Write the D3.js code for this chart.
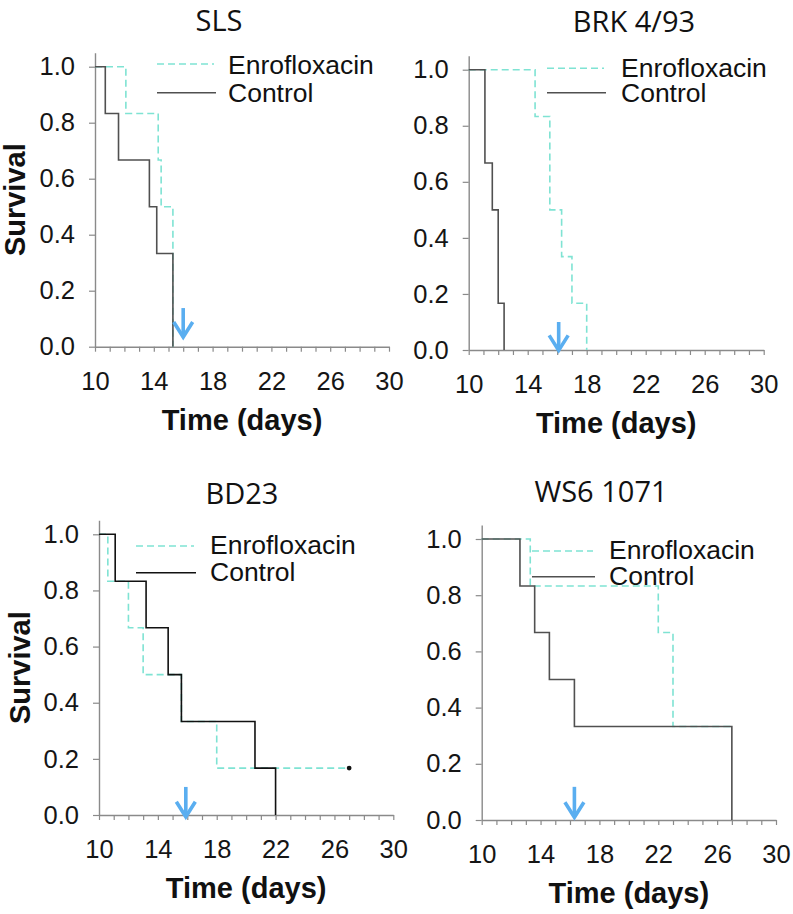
<!DOCTYPE html>
<html>
<head>
<meta charset="utf-8">
<script src="https://cdn.jsdelivr.net/npm/d3@7"></script>
<style>
  html, body { margin: 0; padding: 0; background: #fff; }
  svg { display: block; }
</style>
</head>
<body>
<svg id="chart" width="793" height="914"></svg>
<script>
// ---------------- DATA ----------------
const panelTitles = ["SLS", "BRK 4/93", "BD23", "WS6 1071"];
const seriesNames = ["Enrofloxacin", "Control"];

// Kaplan-Meier step points (time in days, survival fraction)
const controlTimes = [
  [10, 10.7, 11.6, 13.7, 14.2, 15.3],
  [10, 11.1, 11.6, 12.0, 12.4],
  [10, 11.1, 13.2, 14.7, 15.6, 20.6, 22.0],
  [10, 12.6, 13.6, 14.6, 16.3, 27.0]
];
const controlSurvival = [
  [1, 0.833, 0.667, 0.5, 0.333, 0],
  [1, 0.667, 0.5, 0.167, 0],
  [1, 0.833, 0.667, 0.5, 0.333, 0.167, 0],
  [1, 0.833, 0.667, 0.5, 0.333, 0]
];
const enroTimes = [
  [10, 12.1, 14.3, 14.5, 15.3],
  [10, 14.5, 15.5, 16.3, 17.0, 18.0],
  [10, 10.6, 12.0, 13.0, 15.6, 18.0, 27.0],
  [10, 13.3, 22.0, 23.0, 27.0]
];
const enroSurvival = [
  [1, 0.833, 0.667, 0.5, 0],
  [1, 0.833, 0.5, 0.333, 0.167, 0],
  [1, 0.833, 0.667, 0.5, 0.333, 0.167, 0.167],
  [1, 0.833, 0.667, 0.333, 0.333]
];
// censored observation marks (panel index, time, survival)
const censorPanel = [2];
const censorTime = [27.0];
const censorSurvival = [0.167];

// treatment arrow annotation (day, top value, tip value)
const arrowDay = [16.0, 16.1, 15.9, 16.3];
const arrowTop = [0.138, 0.10, 0.10, 0.118];
const arrowTip = [0.031, -0.005, -0.01, 0.006];

const xTickLabels = [10, 14, 18, 22, 26, 30];
const xMinorTicks = d3.range(10, 31, 1);
const yTickValues = [0, 0.2, 0.4, 0.6, 0.8, 1.0];
const xAxisTitle = "Time (days)";
const yAxisTitle = "Survival";

// ---------------- LAYOUT ----------------
const layout = [
  { left: 95,    right: 389,   y0: 346.7, y1: 66.7,  titleX: 219, titleY: 31,
    legLineX1: 157, legLineX2: 214, legEnroY: 64, legCtrlY: 92.7, legTextX: 228, legEnroBase: 74, legCtrlBase: 101.7,
    showY: true, yTitleX: 25, ctrlColor: "#505050" },
  { left: 468.7, right: 763.7, y0: 350,   y1: 69.7,  titleX: 634, titleY: 32,
    legLineX1: 547, legLineX2: 604, legEnroY: 68.3, legCtrlY: 92.7, legTextX: 621, legEnroBase: 77, legCtrlBase: 101.5,
    showY: false, ctrlColor: "#505050" },
  { left: 99,    right: 393.3, y0: 815,   y1: 534.3, titleX: 242, titleY: 504,
    legLineX1: 136, legLineX2: 194, legEnroY: 546, legCtrlY: 572.7, legTextX: 210, legEnroBase: 554, legCtrlBase: 580.7,
    showY: true, yTitleX: 30, ctrlColor: "#111111" },
  { left: 481.7, right: 776,   y0: 820,   y1: 539,   titleX: 601, titleY: 502,
    legLineX1: 532, legLineX2: 593, legEnroY: 551, legCtrlY: 576.7, legTextX: 609, legEnroBase: 559.3, legCtrlBase: 585,
    showY: false, ctrlColor: "#505050" }
];

const enroColor = "#7fe3d3";
const arrowColor = "#5aaef0";
const axisColor = "#8a8a8a";
const labelFont = "'Liberation Sans', Arial, sans-serif";
const titleFont = "'Open Sans', 'Noto Sans', sans-serif";

const svg = d3.select("#chart");

layout.forEach((L, i) => {
  const x = d3.scaleLinear().domain([10, 30]).range([L.left, L.right]);
  const unit = L.y0 - L.y1;
  const y = d3.scaleLinear().domain([0, 1.05]).range([L.y0, L.y0 - 1.05 * unit]);

  const g = svg.append("g");

  // title
  g.append("text")
    .attr("x", L.titleX).attr("y", L.titleY)
    .attr("text-anchor", "middle")
    .style("font-family", titleFont).style("font-size", "29px").style("fill", "#111")
    .text(panelTitles[i]);

  // x axis
  const xAxis = d3.axisBottom(x)
    .tickValues(xMinorTicks)
    .tickSize(5).tickSizeOuter(0).tickPadding(20)
    .tickFormat(d => xTickLabels.includes(d) ? d : "");
  const gx = g.append("g").attr("transform", `translate(0,${L.y0})`).call(xAxis);

  // y axis
  const yAxis = d3.axisLeft(y)
    .tickValues(yTickValues)
    .tickSize(6).tickSizeOuter(0).tickPadding(14)
    .tickFormat(d3.format(".1f"));
  const gy = g.append("g").attr("transform", `translate(${L.left},0)`).call(yAxis);

  [gx, gy].forEach(a => {
    a.select(".domain").attr("stroke", axisColor).attr("stroke-width", 1.4);
    a.selectAll(".tick line").attr("stroke", axisColor).attr("stroke-width", 1.2);
    a.selectAll(".tick text")
      .style("font-family", labelFont).style("font-size", "25.5px").style("fill", "#151515");
  });

  // axis titles
  g.append("text")
    .attr("x", (L.left + L.right) / 2).attr("y", L.y0 + 83)
    .attr("text-anchor", "middle")
    .style("font-family", labelFont).style("font-size", "29px").style("font-weight", "bold").style("fill", "#111")
    .text(xAxisTitle);
  if (L.showY) {
    const cy = (y(0) + y(1.05)) / 2;
    g.append("text")
      .attr("transform", `translate(${L.yTitleX},${cy}) rotate(-90)`)
      .attr("text-anchor", "middle")
      .style("font-family", labelFont).style("font-size", "29px").style("font-weight", "bold").style("fill", "#111")
      .text(yAxisTitle);
  }

  const line = d3.line().x(d => x(d[0])).y(d => y(d[1])).curve(d3.curveStepAfter);

  // enrofloxacin (dashed) drawn first
  const enroPts = enroTimes[i].map((t, k) => [t, enroSurvival[i][k]]);
  g.append("path").datum(enroPts)
    .attr("d", line)
    .attr("fill", "none").attr("stroke", enroColor).attr("stroke-width", 1.6)
    .attr("stroke-dasharray", "7,4");

  // control (solid)
  const ctrlPts = controlTimes[i].map((t, k) => [t, controlSurvival[i][k]]);
  g.append("path").datum(ctrlPts)
    .attr("d", line)
    .attr("fill", "none").attr("stroke", L.ctrlColor).attr("stroke-width", 1.6);

  // censor marks
  censorPanel.forEach((p, k) => {
    if (p === i) {
      g.append("circle")
        .attr("cx", x(censorTime[k])).attr("cy", y(censorSurvival[k])).attr("r", 2.4)
        .attr("fill", "#111");
    }
  });

  // arrow annotation
  const ax = x(arrowDay[i]), aTop = y(arrowTop[i]), aTip = y(arrowTip[i]);
  g.append("line")
    .attr("x1", ax).attr("x2", ax).attr("y1", aTop).attr("y2", aTip - 2)
    .attr("stroke", arrowColor).attr("stroke-width", 3.6);
  g.append("path")
    .attr("d", `M${ax - 9.5},${aTip - 16} L${ax},${aTip - 1} L${ax + 9.5},${aTip - 16}`)
    .attr("fill", "none").attr("stroke", arrowColor).attr("stroke-width", 3.6)
    .attr("stroke-linejoin", "miter");

  // legend
  const leg = g.append("g");
  leg.append("line")
    .attr("x1", L.legLineX1).attr("x2", L.legLineX2).attr("y1", L.legEnroY).attr("y2", L.legEnroY)
    .attr("stroke", enroColor).attr("stroke-width", 1.6).attr("stroke-dasharray", "7,4");
  leg.append("line")
    .attr("x1", L.legLineX1).attr("x2", L.legLineX2 + 2).attr("y1", L.legCtrlY).attr("y2", L.legCtrlY)
    .attr("stroke", L.ctrlColor).attr("stroke-width", 1.6);
  leg.append("text")
    .attr("x", L.legTextX).attr("y", L.legEnroBase)
    .style("font-family", labelFont).style("font-size", "26.5px").style("fill", "#111")
    .text(seriesNames[0]);
  leg.append("text")
    .attr("x", L.legTextX).attr("y", L.legCtrlBase)
    .style("font-family", labelFont).style("font-size", "26.5px").style("fill", "#111")
    .text(seriesNames[1]);
});
</script>
</body>
</html>
